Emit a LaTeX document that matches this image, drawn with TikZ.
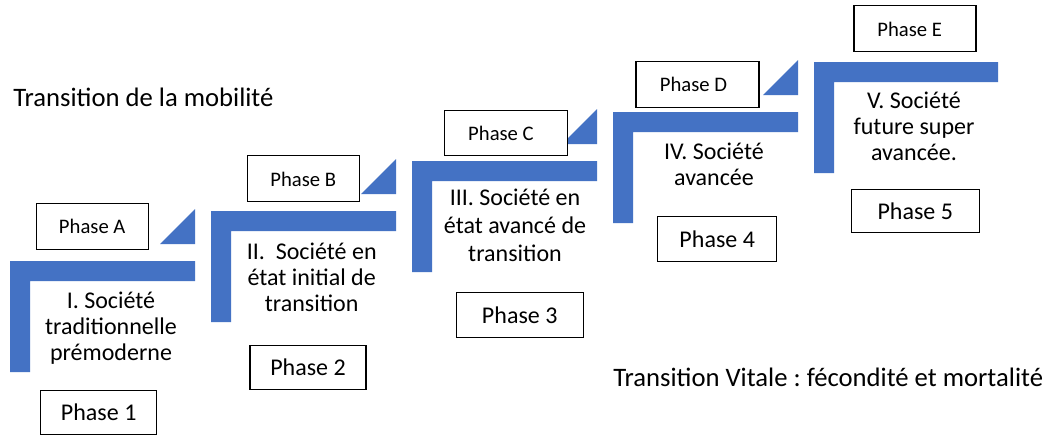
\documentclass[tikz,border=0pt]{standalone}
\usepackage{fontspec}
\setmainfont{Carlito}
\frenchspacing
\definecolor{stepblue}{HTML}{4472C4}
\begin{document}
\begin{tikzpicture}[x=0.75pt,y=-0.75pt,
  stairs/.style={fill=stepblue,draw=none},
  phaseletter/.style={draw=black,line width=0.8pt,fill=white,inner sep=0pt,font=\fontsize{15.5}{18}\selectfont},
  phasenum/.style={draw=black,line width=0.8pt,fill=white,inner sep=0pt,font=\fontsize{18}{21}\selectfont},
  society/.style={align=center,inner sep=0pt,anchor=base,font=\fontsize{18}{19.5}\selectfont},
  title/.style={anchor=base west,inner sep=0pt,font=\fontsize{20}{24}\selectfont}]
\useasboundingbox (0,0) rectangle (1059,437);
\fill[white] (0,0) rectangle (1059,437);
% L-shaped steps
\foreach \xl/\yt/\xr [count=\i] in {10/261/195, 211/211/396, 412/161/597, 613/112/798, 814/62/998}{
  \fill[stairs] (\xl,\yt+111) -- (\xl,\yt) -- (\xr,\yt) -- (\xr,\yt+20) -- (\xl+20,\yt+20) -- (\xl+20,\yt+111) -- cycle;
}
% triangles
\foreach \xr/\yt in {195/261, 396/211, 597/161, 798/112}{
  \fill[stairs] (\xr-35,\yt-17) -- (\xr,\yt-52) -- (\xr,\yt-17) -- cycle;
}
% Phase letter boxes
\node[phaseletter,minimum width=112*0.75pt,minimum height=46*0.75pt] (pA) at (92.2,226.2) {Phase A};
\node[phaseletter,minimum width=112*0.75pt,minimum height=46*0.75pt] (pB) at (303.2,178.9) {Phase B};
\node[phaseletter,minimum width=123*0.75pt,minimum height=45*0.75pt] (pC) at (506.3,133.3) {Phase C\hspace*{8pt}};
\node[phaseletter,minimum width=123*0.75pt,minimum height=46*0.75pt] (pD) at (697.5,84.5) {Phase D\hspace*{6pt}};
\node[phaseletter,minimum width=122*0.75pt,minimum height=46*0.75pt] (pE) at (915,28.9) {Phase E\hspace*{8pt}};
% Phase number boxes
\node[phasenum,minimum width=116*0.75pt,minimum height=44*0.75pt] (p1) at (98.7,412.2) {Phase 1};
\node[phasenum,minimum width=116*0.75pt,minimum height=44*0.75pt] (p2) at (308,367.2) {Phase 2};
\node[phasenum,minimum width=127*0.75pt,minimum height=45*0.75pt] (p3) at (519.7,315) {Phase 3};
\node[phasenum,minimum width=119*0.75pt,minimum height=45*0.75pt] (p4) at (717.2,239.2) {Phase 4};
\node[phasenum,minimum width=128*0.75pt,minimum height=43*0.75pt] (p5) at (915.2,211) {Phase 5};
% society texts (anchor base = last line's baseline)
\node[society] (s1) at (111,360) {I. Société\\traditionnelle\\prémoderne};
\node[society] (s2) at (311.7,311) {II.~ Société en\\état initial de\\transition};
\node[society,font=\fontsize{18}{21}\selectfont] (s3) at (515,261) {III. Société en\\état avancé de\\transition};
\node[society] (s4) at (714,185.5) {IV. Société\\avancée};
\node[society] (s5) at (914,160) {V. Société\\future super\\avancée.};
% titles
\node[title] (t1) at (13,106.7) {Transition de la mobilité};
\node[title] (t2) at (613,386.7) {Transition Vitale : fécondité et mortalité};
\end{tikzpicture}
\end{document}
